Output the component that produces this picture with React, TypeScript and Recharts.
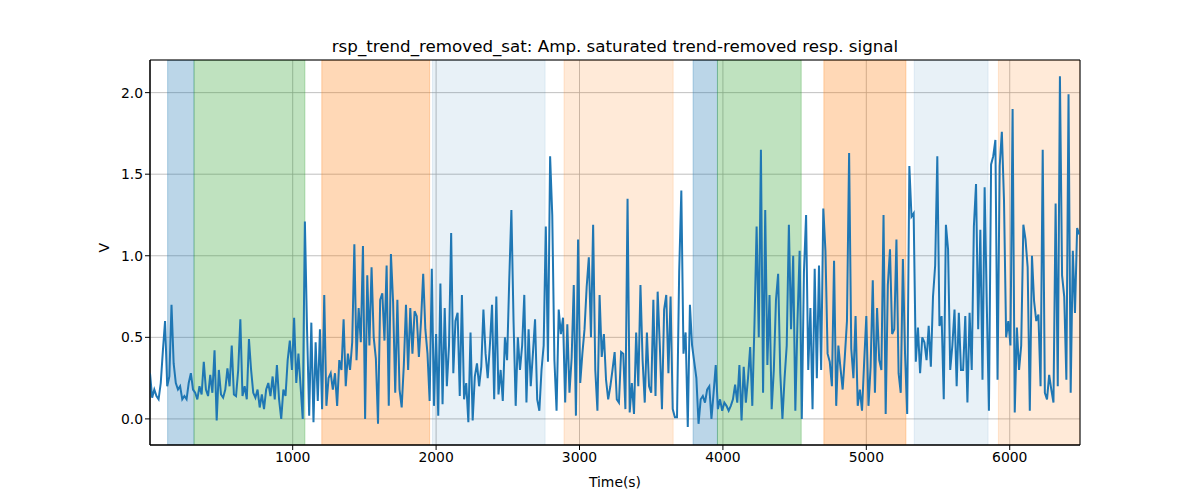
import React from "react";
import {
  LineChart,
  Line,
  XAxis,
  YAxis,
  CartesianGrid,
  ReferenceArea,
} from "recharts";

// sampling of the resp. signal (seconds)
const SAMPLE_START = 5;
const SAMPLE_STEP = 15;

// amp. saturated trend-removed resp. signal (V)
const signal = [
  0.28, 0.13, 0.18, 0.14, 0.12, 0.22, 0.42, 0.6, 0.2, 0.26,
  0.7, 0.34, 0.22, 0.18, 0.2, 0.12, 0.14, 0.12, 0.22, 0.28,
  0.18, 0.16, 0.12, 0.2, 0.15, 0.35, 0.18, 0.14, 0.27, 0.16,
  0.42, -0.01, 0.3, 0.15, 0.13, 0.18, 0.31, 0.2, 0.45, 0.15,
  0.14, 0.3, 0.61, 0.14, 0.2, 0.12, 0.49, 0.3, 0.16, 0.13,
  0.18, 0.07, 0.15, 0.06, 0.18, 0.22, 0.14, 0.26, 0.12, 0.33,
  0.12, 0.0, 0.18, 0.14, 0.36, 0.48, 0.3, 0.62, 0.22, 0.4,
  0.2, 0.0, 1.21, 0.55, 0.02, 0.59, -0.02, 0.47, 0.11, 0.55,
  0.06, 0.76, 0.08, 0.25, 0.28, 0.18, 0.28, 0.08, 0.36, 0.3,
  0.61, 0.2, 0.4, 0.3, 0.47, 1.07, 0.36, 0.68, 0.47, 1.06,
  0.0, 0.88, 0.45, 0.93, 0.5, 0.37, -0.03, 0.73, 0.77, 0.48,
  0.94, 0.08, 1.01, 0.72, 0.16, 0.73, 0.18, 0.07, 0.33, 0.7,
  0.3, 0.68, 0.4, 0.66, 0.63, 0.38, 0.6, 0.89, 0.55, 0.4,
  0.11, 0.92, 0.08, 0.52, 0.02, 0.83, 0.09, 0.68, 0.2, 0.45,
  1.14, 0.28, 0.6, 0.65, 0.14, 0.76, 0.12, 0.22, -0.02, 0.53,
  -0.01, 0.26, 0.34, 0.2, 0.32, 0.67, 0.4, 0.25, 0.45, 0.7,
  0.12, 0.75, 0.15, 0.3, 0.11, 0.5, 0.36, 0.85, 1.28, 0.6,
  0.08, 0.5, 0.3, 0.45, 0.76, 0.1, 0.55, 0.2, 0.4, 0.61,
  0.12, 0.05, 0.3, 0.45, 1.18, 0.35, 1.61, 1.25, 0.36, 0.05,
  0.67, 0.52, 0.62, 0.1, 0.58, 0.16, 0.37, 0.82, 0.02, 1.1,
  0.22, 0.4, 0.55, 0.81, 0.99, 0.5, 1.19, 0.3, 0.05, 0.76,
  0.38, 0.52, 0.24, 0.12, 0.2, 0.3, 0.41, 0.12, 0.1, 0.41,
  0.4, 0.06, 1.35, 0.04, 0.22, 0.03, 0.53, 0.2, 0.82, 0.36,
  0.1, 0.53, 0.2, 0.16, 0.73, 0.14, 0.78, 0.45, 0.06, 0.67,
  0.76, 0.28, 0.75, 0.06, 0.01, 0.01, 0.9, 1.4, 0.4, 0.53,
  -0.05, 0.7, 0.45, 0.35, 0.25, -0.03, 0.12, 0.14, 0.1, 0.18,
  0.2, 0.0, 0.16, 0.33, 0.06, 0.12, 0.05, 0.1, 0.08, 0.05,
  0.08, 0.12, 0.21, 0.1, 0.33, -0.01, 0.32, 0.1, 0.25, 0.44,
  0.08, 0.58, 1.18, 0.5, 1.65, 0.16, 1.28, 0.33, 0.76, 0.06,
  0.3, 0.73, 0.89, 0.28, 0.0, 0.25, 0.45, 1.19, 0.55, 1.0,
  0.05, 0.6, 1.03, 0.0, 0.9, 1.25, 0.3, 0.68, 0.06, 0.92,
  0.25, 0.94, 0.3, 1.29, 1.03, 0.4, 0.35, 0.2, 0.97, 0.08,
  0.45, 0.31, 0.18, 0.38, 0.6, 1.63, 0.43, 0.25, 0.63, 0.08,
  0.18, 0.05, 0.35, 0.63, 0.08, 0.32, 0.85, 0.16, 0.68, 0.36,
  0.3, 1.25, 0.03, 0.82, 1.04, 0.52, 0.55, 1.1, 0.28, 0.16,
  0.98, 0.4, 0.03, 1.55, 1.24, 1.26, 0.35, 0.56, 0.28, 0.5,
  0.47, 0.36, 0.57, 0.32, 0.75, 0.94, 1.61, 0.57, 0.63, 0.12,
  1.19, 1.04, 0.3, 0.45, 0.67, 0.2, 0.65, 0.3, 0.3, 0.63,
  0.1, 0.65, 0.3, 1.18, 1.44, 0.55, 1.16, 0.24, 1.42, 0.7,
  0.05, 1.56, 1.61, 1.71, 0.24, 1.55, 1.76, 1.34, 0.5, 0.6,
  0.45, 1.9, 0.04, 0.56, 0.3, 0.45, 1.19, 1.1, 0.93, 0.05,
  1.0, 0.72, 0.6, 0.64, 0.2, 1.65, 0.16, 0.12, 0.27, 0.18,
  0.1, 1.32, 0.2, 2.1, 0.88, 0.75, 0.24, 1.99, 0.16, 1.03,
  0.65, 1.17, 1.13,
];

// shaded phases
const phaseStart = [128, 312, 1203, 1975, 2892, 3792, 3962, 4704, 5334, 5921];
const phaseEnd = [312, 1085, 1955, 2760, 3653, 3962, 4546, 5276, 5849, 6490];
const phaseKind = ["a", "b", "c", "d", "e", "a", "b", "c", "d", "e"];

const xTicks = [1000, 2000, 3000, 4000, 5000, 6000];
const yTicks = [0, 0.5, 1.0, 1.5, 2.0];

const phaseStyle: Record<string, { color: string; opacity: number }> = {
  a: { color: "#1f77b4", opacity: 0.3 },
  b: { color: "#2ca02c", opacity: 0.3 },
  c: { color: "#ff7f0e", opacity: 0.3 },
  d: { color: "#1f77b4", opacity: 0.1 },
  e: { color: "#ff7f0e", opacity: 0.16 },
};

const data = signal.map((v, i) => ({ t: SAMPLE_START + i * SAMPLE_STEP, v }));

const font = "DejaVu Sans, sans-serif";

export default function App() {
  return (
    <div style={{ position: "absolute", left: 0, top: 0, width: 1200, height: 500, background: "#fff" }}>
      <div
        style={{
          position: "absolute",
          left: 150,
          top: 36,
          width: 930,
          textAlign: "center",
          fontFamily: font,
          fontSize: 16.7,
          lineHeight: "20px",
          color: "#000",
        }}
      >
        rsp_trend_removed_sat: Amp. saturated trend-removed resp. signal
      </div>
      <LineChart
        width={1200}
        height={500}
        data={data}
        margin={{ top: 60, right: 120, bottom: 10, left: 90 }}
      >
        {phaseStart.map((s, i) => (
          <ReferenceArea
            key={i}
            x1={s}
            x2={phaseEnd[i]}
            fill={phaseStyle[phaseKind[i]].color}
            fillOpacity={phaseStyle[phaseKind[i]].opacity}
            stroke={phaseStyle[phaseKind[i]].color}
            strokeOpacity={phaseStyle[phaseKind[i]].opacity}
            ifOverflow="hidden"
          />
        ))}
        <CartesianGrid stroke="#b0b0b0" strokeWidth={0.8} />
        <XAxis
          type="number"
          dataKey="t"
          domain={[5, 6490]}
          ticks={xTicks}
          allowDataOverflow
          height={45}
          tick={{ fill: "#000", fontSize: 13.9, fontFamily: font }}
          tickLine={{ stroke: "#000" }}
          axisLine={{ stroke: "#000" }}
          tickSize={5}
          label={{
            value: "Time(s)",
            position: "insideBottom",
            offset: 3,
            fill: "#000",
            fontSize: 13.9,
            fontFamily: font,
          }}
        />
        <YAxis
          type="number"
          domain={[-0.16, 2.2]}
          ticks={yTicks}
          allowDataOverflow
          width={60}
          tickFormatter={(v: number) => v.toFixed(1)}
          tick={{ fill: "#000", fontSize: 13.9, fontFamily: font }}
          tickLine={{ stroke: "#000" }}
          axisLine={{ stroke: "#000" }}
          tickSize={5}
          label={{
            value: "V",
            angle: -90,
            position: "insideLeft",
            offset: 14,
            fill: "#000",
            fontSize: 13.9,
            fontFamily: font,
          }}
        />
        <ReferenceArea
          x1={5}
          x2={6490}
          y1={-0.16}
          y2={2.2}
          fill="none"
          stroke="#000"
          strokeWidth={1}
        />
        <Line
          type="linear"
          dataKey="v"
          stroke="#1f77b4"
          strokeWidth={2}
          dot={false}
          isAnimationActive={false}
        />
      </LineChart>
    </div>
  );
}
